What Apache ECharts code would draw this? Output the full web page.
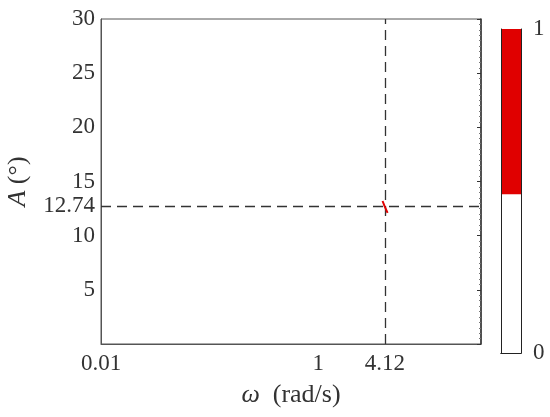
<!DOCTYPE html>
<html>
<head>
<meta charset="utf-8">
<script src="https://cdn.jsdelivr.net/npm/echarts@6.0.0/dist/echarts.min.js"></script>
<style>
	html, body { margin: 0; padding: 0; background: #fff; }
	#chart { width: 550px; height: 417px; }
</style>
</head>
<body>
<div id="chart"></div>
<script>
// frequency response branch (red segment)
const omega = [3.92, 4.1, 4.36]
const amp = [13.2, 12.7, 12.1]

// reference lines
const omegaRef = 4.12
const ampRef = 12.74

// tick labels
const xTicks = [0.01, 1, 4.12]
const yTicks = [5, 10, 12.74, 15, 20, 25, 30]
const cbTicks = [0, 1]

// colorbar split (white below, red above)
const cbWhite = [0.49]
const cbRed = [0.51]

const font = 'Liberation Serif'
const textColor = '#333'
const fs = 23

const chart = echarts.init(document.getElementById('chart'))

const boxAxis = (type, extra) => Object.assign({
	type: type,
	gridIndex: 1,
	z: 10,
	axisLine: { show: true, lineStyle: { color: '#222', width: 1 } },
	axisTick: { show: false },
	axisLabel: { show: false },
	splitLine: { show: false }
}, extra)

const option = {
	animation: false,
	grid: [
		{ left: 101, top: 19, width: 380, height: 325, show: true, borderColor: '#555', borderWidth: 1, outerBoundsMode: 'none', containLabel: false },
		{ left: 501, top: 29, width: 20, height: 324, outerBoundsMode: 'none', containLabel: false }
	],
	xAxis: [
		{
			type: 'log',
			gridIndex: 0,
			min: 0.01,
			max: 31.62,
			logBase: 10,
			name: '{i|ω}  (rad/s)',
			nameLocation: 'middle',
			nameGap: 38,
			nameTextStyle: {
				fontFamily: font, fontSize: 26, color: textColor,
				rich: { i: { fontFamily: font, fontStyle: 'italic', fontSize: 26, color: textColor } }
			},
			axisLine: { show: true, lineStyle: { color: '#555', width: 1 } },
			axisTick: { show: false },
			splitLine: { show: false },
			minorTick: { show: false },
			axisLabel: {
				customValues: xTicks,
				fontFamily: font, fontSize: fs, color: textColor, margin: 8,
				formatter: v => String(v)
			}
		},
		boxAxis('category', { data: ['cb'], position: 'bottom' }),
		boxAxis('category', { data: ['cb'], position: 'top' })
	],
	yAxis: [
		{
			type: 'value',
			gridIndex: 0,
			min: 0,
			max: 30,
			name: '{i|A} (°)',
			nameLocation: 'middle',
			nameGap: 70,
			nameRotate: 90,
			nameTextStyle: {
				fontFamily: font, fontSize: 26, color: textColor,
				rich: { i: { fontFamily: font, fontStyle: 'italic', fontSize: 26, color: textColor } }
			},
			axisLine: { show: true, lineStyle: { color: '#555', width: 1 } },
			axisTick: { show: false },
			splitLine: { show: false },
			axisLabel: {
				customValues: yTicks,
				fontFamily: font, fontSize: fs, color: textColor, margin: 6,
				formatter: v => String(v)
			}
		},
		{
			type: 'value',
			gridIndex: 0,
			position: 'right',
			min: 0,
			max: 30,
			interval: 5,
			axisLine: { show: true, lineStyle: { color: '#333', width: 1.5 } },
			axisTick: { show: true, inside: true, length: 4, lineStyle: { color: '#333' } },
			minorTick: { show: true, splitNumber: 10, length: 2, lineStyle: { color: '#777' } },
			axisLabel: { show: false },
			splitLine: { show: false }
		},
		boxAxis('value', { position: 'left', min: 0, max: 1 }),
		boxAxis('value', {
			position: 'right',
			min: 0,
			max: 1,
			interval: 1,
			axisLabel: {
				show: true,
				customValues: cbTicks,
				fontFamily: font, fontSize: fs, color: textColor, margin: 12
			}
		})
	],
	series: [
		{
			type: 'line',
			xAxisIndex: 0,
			yAxisIndex: 0,
			data: omega.map((w, i) => [w, amp[i]]),
			showSymbol: false,
			lineStyle: { color: '#e00000', width: 2 },
			z: 5,
			markLine: {
				silent: true,
				symbol: 'none',
				label: { show: false },
				lineStyle: { color: '#333', width: 1.3, type: [10, 6] },
				data: [{ xAxis: omegaRef }, { yAxis: ampRef }]
			}
		},
		{
			type: 'bar',
			xAxisIndex: 1,
			yAxisIndex: 2,
			stack: 'cb',
			barWidth: '100%',
			data: cbWhite,
			itemStyle: { color: '#ffffff' }
		},
		{
			type: 'bar',
			xAxisIndex: 1,
			yAxisIndex: 2,
			stack: 'cb',
			barWidth: '100%',
			data: cbRed,
			itemStyle: { color: '#e00000' }
		}
	]
}

chart.setOption(option)
</script>
</body>
</html>
